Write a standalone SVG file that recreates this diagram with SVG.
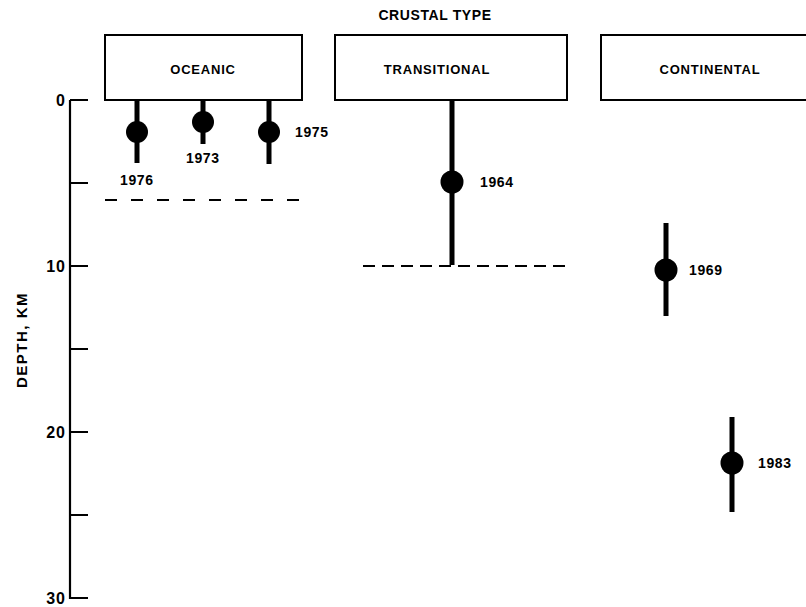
<svg xmlns="http://www.w3.org/2000/svg" width="806" height="607" viewBox="0 0 806 607">
<style>
text{font-family:"Liberation Sans",Arial,sans-serif;font-weight:bold;fill:#000}
.box{fill:#fff;stroke:#000;stroke-width:2}
.lbl{font-size:13px;letter-spacing:0.8px}
.yr{font-size:14px;letter-spacing:0.6px}
.tk{font-size:16px;text-anchor:end;letter-spacing:1px}
.ax{stroke:#000;stroke-width:2.2;fill:none}
.bar{stroke:#000;stroke-width:5}
.dot{fill:#000}
.dash{stroke:#000;stroke-width:2;fill:none}
</style>
<rect width="806" height="607" fill="#fff"/>
<text x="435" y="20" text-anchor="middle" style="font-size:14px;letter-spacing:0.6px">CRUSTAL TYPE</text>
<text transform="translate(27,340) rotate(-90)" text-anchor="middle" style="font-size:15px;letter-spacing:1.5px">DEPTH, KM</text>

<g id="axis">
<path class="ax" d="M70,100V599M70,100H88M70,183H88M70,266H88M70,349H88M70,432H88M70,515H88M70,598H88"/>
<text class="tk" x="66" y="106">0</text>
<text class="tk" x="66" y="272">10</text>
<text class="tk" x="66" y="438">20</text>
<text class="tk" x="66" y="604">30</text>
</g>

<g id="oceanic">
<rect class="box" x="105" y="35" width="197" height="65"/>
<text class="lbl" x="203" y="74" text-anchor="middle">OCEANIC</text>
</g>
<g id="transitional">
<rect class="box" x="335" y="35" width="232" height="65"/>
<text class="lbl" x="437" y="74" text-anchor="middle">TRANSITIONAL</text>
</g>
<g id="continental">
<rect class="box" x="601" y="35" width="215" height="65"/>
<text class="lbl" x="710" y="74" text-anchor="middle">CONTINENTAL</text>
</g>

<g id="connectors">
<path class="dash" d="M105,200H302" stroke-dasharray="12,14"/>
<path class="dash" d="M363,266H567" stroke-dasharray="12,7"/>
<path class="bar" d="M137,100V163M203,100V144M269,100V164M452,100V265M666,223V316M732,417V512"/>
</g>

<g id="p1976"><circle class="dot" cx="137" cy="132" r="11"/><text class="yr" x="120" y="185">1976</text></g>
<g id="p1973"><circle class="dot" cx="203" cy="122" r="11"/><text class="yr" x="186" y="163">1973</text></g>
<g id="p1975"><circle class="dot" cx="269" cy="132" r="11"/><text class="yr" x="295" y="137">1975</text></g>
<g id="p1964"><circle class="dot" cx="452" cy="182" r="11.5"/><text class="yr" x="480" y="187">1964</text></g>
<g id="p1969"><circle class="dot" cx="666" cy="270" r="11.5"/><text class="yr" x="689" y="275">1969</text></g>
<g id="p1983"><circle class="dot" cx="732" cy="463" r="11.5"/><text class="yr" x="758" y="468">1983</text></g>
</svg>
